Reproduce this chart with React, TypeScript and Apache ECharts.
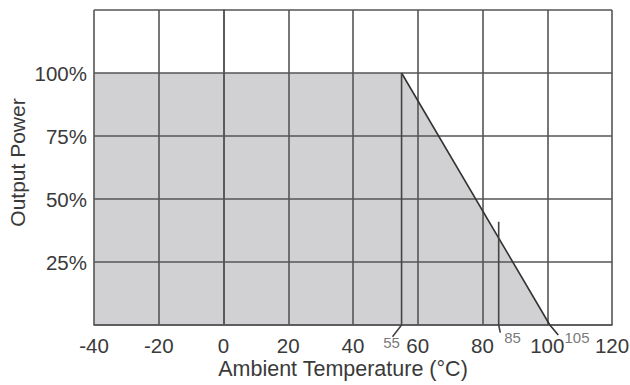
import React, { useEffect, useRef } from "react";
import * as echarts from "echarts";

// Derating curve (Ambient Temperature °C vs Output Power %)
const curveTemps = [-40, 55, 100.8];
const curvePower = [100, 100, 0];
// diagonal derating line, with its leader running below the axis to the "105" label
const slopeTemps = [55, 100.8, 103.4];
const slopePower = [100, 0, -4];
// vertical marker at 55 °C (with leader to its label)
const mark55Temps = [55, 55, 52.2];
const mark55Power = [100, 0, -4.7];
// vertical marker at 85 °C
const mark85Temps = [85, 85, 85.5];
const mark85Power = [41, 0, -3];
// small marker labels
const markerLabels = ["55", "85", "105"];
const markerLabelTemps = [51.9, 89.3, 109.2];
const markerLabelPower = [-7, -5, -5];

const yTickLabels: Record<number, string> = { 25: "25%", 50: "50%", 75: "75%", 100: "100%" };

const FONT = "'Liberation Sans', Arial, Helvetica, sans-serif";
const LINE = "#555";
const TEXT = "#3a3a3a";

const zip = (a: number[], b: number[]) => a.map((v, i) => [v, b[i]]);

export default function App() {
  const ref = useRef<HTMLDivElement>(null);
  useEffect(() => {
    document.body.style.margin = "0";
    const chart = echarts.init(ref.current!, null, { renderer: "svg" });
    chart.setOption({
      animation: false,
      backgroundColor: "#fff",
      grid: { left: 94, right: 18, top: 10, bottom: 60, containLabel: false, outerBoundsMode: "none" },
      xAxis: {
        type: "value",
        min: -40,
        max: 120,
        interval: 20,
        z: 5,
        name: "Ambient Temperature (°C)",
        nameLocation: "middle",
        nameGap: 33,
        nameMoveOverlap: false,
        nameTextStyle: { fontFamily: FONT, fontSize: 21.5, color: TEXT, padding: [0, 20, 0, 0] },
        axisLine: { show: true, lineStyle: { color: LINE, width: 1.6 } },
        axisTick: { show: false },
        axisLabel: { fontFamily: FONT, fontSize: 20.5, color: TEXT, margin: 10 },
        splitLine: { show: true, lineStyle: { color: LINE, width: 1.6 } },
      },
      yAxis: {
        type: "value",
        min: 0,
        max: 125,
        interval: 25,
        z: 5,
        name: "Output Power",
        nameLocation: "middle",
        nameGap: 66,
        nameMoveOverlap: false,
        nameRotate: 90,
        nameTextStyle: { fontFamily: FONT, fontSize: 21, color: TEXT, padding: [0, 0, 0, 10] },
        axisLine: { show: true, lineStyle: { color: LINE, width: 1.6 } },
        axisTick: { show: false },
        axisLabel: {
          fontFamily: FONT,
          fontSize: 20.5,
          color: TEXT,
          margin: 7,
          formatter: (v: number) => yTickLabels[v] ?? "",
        },
        splitLine: { show: true, lineStyle: { color: LINE, width: 1.6 } },
      },
      series: [
        {
          type: "line",
          z: 1,
          data: zip(curveTemps, curvePower),
          symbol: "none",
          lineStyle: { width: 0 },
          areaStyle: { color: "#d1d1d3", opacity: 1 },
          silent: true,
        },
        {
          type: "line",
          z: 10,
          clip: false,
          data: zip(slopeTemps, slopePower),
          symbol: "none",
          lineStyle: { color: "#333", width: 1.6 },
        },
        {
          type: "line",
          z: 10,
          clip: false,
          data: zip(mark55Temps, mark55Power),
          symbol: "none",
          lineStyle: { color: "#444", width: 1.6 },
        },
        {
          type: "line",
          z: 10,
          clip: false,
          data: zip(mark85Temps, mark85Power),
          symbol: "none",
          lineStyle: { color: "#444", width: 1.6 },
        },
        {
          type: "scatter",
          z: 10,
          clip: false,
          symbolSize: 0,
          data: markerLabels.map((n, i) => ({ name: n, value: [markerLabelTemps[i], markerLabelPower[i]] })),
          label: {
            show: true,
            position: "inside",
            formatter: (p: any) => p.name,
            fontFamily: FONT,
            fontSize: 15,
            color: "#555",
          },
        },
      ],
    });
    return () => chart.dispose();
  }, []);
  return <div ref={ref} style={{ width: 630, height: 385, position: "absolute", left: 0, top: 0 }} />;
}
